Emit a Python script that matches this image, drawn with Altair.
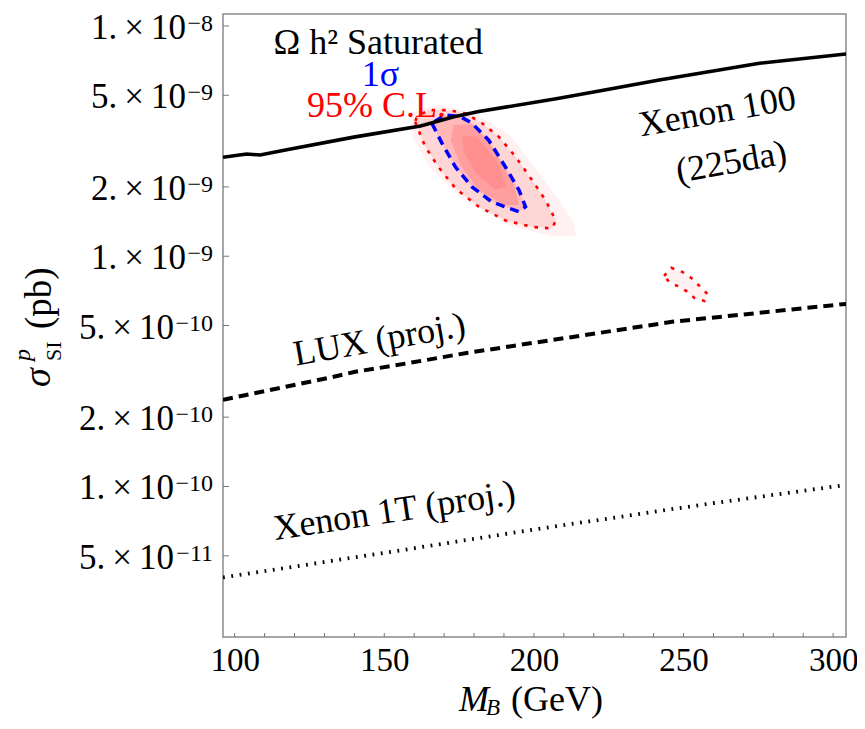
import altair as alt
import pandas as pd

# ---------------- data ----------------
# Xenon 100 (225 live days) limit, solid black
x100_m = [96.1, 104.0, 108.5, 117.4, 139.8, 162.1, 173.3, 181.6, 208.4, 221.8, 241.9, 275.4, 304.3]
x100_s = [2.69e-9, 2.78e-9, 2.75e-9, 2.90e-9, 3.29e-9, 3.68e-9, 4.03e-9, 4.25e-9, 4.85e-9,
          5.22e-9, 5.83e-9, 6.89e-9, 7.55e-9]
# LUX projection, dashed
lux_m = [96.1, 131.3, 140.3, 152.7, 177.5, 246.2, 304.3]
lux_s = [2.38e-10, 2.96e-10, 3.15e-10, 3.34e-10, 3.80e-10, 5.19e-10, 6.21e-10]
# Xenon 1T projection, dotted
x1t_m = [96.1, 148.0, 199.6, 255.3, 304.3]
x1t_s = [4.03e-11, 5.10e-11, 6.49e-11, 8.30e-11, 1.016e-10]

# 95% C.L. contour (red dotted)
cl95_m = [160.3, 163.7, 168.1, 173.8, 181.6, 190.5, 199.4, 206.1, 207.3, 203.9, 199.4, 193.9,
          188.3, 182.7, 177.1, 171.5, 164.8, 160.9, 160.3]
cl95_s = [3.84e-9, 2.99e-9, 2.44e-9, 1.97e-9, 1.64e-9, 1.43e-9, 1.34e-9, 1.32e-9, 1.43e-9,
          1.75e-9, 2.14e-9, 2.70e-9, 3.30e-9, 3.78e-9, 4.17e-9, 4.31e-9, 4.31e-9, 4.04e-9, 3.84e-9]
# small second 95% C.L. island
isl_m = [243.5, 245.9, 249.6, 252.6, 255.3, 258.0, 257.0, 253.6, 250.9, 247.9, 245.2, 243.5]
isl_s = [8.21e-10, 8.90e-10, 8.55e-10, 8.05e-10, 7.43e-10, 6.86e-10, 6.39e-10, 6.59e-10,
         7.07e-10, 7.43e-10, 7.73e-10, 8.21e-10]
# 1 sigma contour (blue dashed)
s1_m = [165.9, 169.3, 173.8, 179.3, 186.0, 195.0, 197.2, 195.0, 190.5, 184.9, 179.3, 175.4, 170.4, 165.9]
s1_s = [3.78e-9, 3.09e-9, 2.44e-9, 2.00e-9, 1.72e-9, 1.56e-9, 1.64e-9, 1.94e-9, 2.44e-9,
        3.19e-9, 3.78e-9, 4.04e-9, 4.10e-9, 3.78e-9]
# likelihood shading: faint outer glow, and inner core
glow_m = [159.0, 168.2, 180.0, 192.0, 204.0, 213.5, 214.0, 206.0, 192.0, 176.0, 165.5, 159.5]
glow_s = [4.20e-9, 4.55e-9, 4.20e-9, 3.35e-9, 2.10e-9, 1.40e-9, 1.22e-9, 1.22e-9, 1.36e-9,
          1.78e-9, 2.40e-9, 3.25e-9]
core_m = [173.2, 179.9, 186.6, 193.3, 195.0, 190.0, 181.6, 175.5, 172.2]
core_s = [3.72e-9, 3.72e-9, 2.90e-9, 2.04e-9, 1.67e-9, 1.67e-9, 1.94e-9, 2.49e-9, 3.20e-9]
center_m = [176.0, 181.0, 187.5, 191.0, 187.0, 180.5, 176.5]
center_s = [3.35e-9, 3.30e-9, 2.60e-9, 2.00e-9, 1.95e-9, 2.30e-9, 2.85e-9]

# annotations
ann_text = ["Ω h² Saturated", "1σ", "95% C.L.", "Xenon 100", "(225da)", "LUX (proj.)", "Xenon 1T (proj.)"]
ann_m = [148.0, 148.7, 147.4, 261.3, 266.0, 148.4, 153.4]
ann_s = [8.40e-9, 6.12e-9, 4.50e-9, 4.24e-9, 2.56e-9, 4.33e-10, 7.83e-11]
ann_color = ["black", "#0000ff", "#ff0000", "black", "black", "black", "black"]
ann_angle = [0, 0, 0, 350, 350, 350, 351.5]

# axes
x_ticks_major = [100, 150, 200, 250, 300]
x_ticks_minor = [110, 120, 130, 140, 160, 170, 180, 190, 210, 220, 230, 240, 260, 270, 280, 290]
y_tick_vals = [1e-8, 5e-9, 2e-9, 1e-9, 5e-10, 2e-10, 1e-10, 5e-11]
y_tick_mant = ["1.", "5.", "2.", "1.", "5.", "2.", "1.", "5."]
y_tick_exp = ["−8", "−9", "−9", "−9", "−10", "−10", "−10", "−11"]
x_domain = [96.1, 304.3]
y_domain = [2.22e-11, 1.127e-8]

# ---------------- chart ----------------
FONT = "Liberation Serif"
W, H = 623, 623

xaxis = alt.Axis(values=x_ticks_major, ticks=False, domain=False, grid=False, title=None,
                 labelFont=FONT, labelFontSize=33, labelPadding=7, labelColor="black")
xs = alt.Scale(domain=x_domain, nice=False, zero=False)
ys = alt.Scale(type="log", domain=y_domain, nice=False)


def X(f="M"):
    return alt.X(f"{f}:Q", scale=xs, axis=xaxis)


def Y(f="s"):
    return alt.Y(f"{f}:Q", scale=ys, axis=None)


def df(m, s):
    return pd.DataFrame({"M": m, "s": s, "i": list(range(len(m)))})


def poly(m, s, opacity, color="#ff3b3b"):
    return alt.Chart(df(m, s)).mark_line(fill=color, fillOpacity=opacity, strokeOpacity=0,
                                         clip=True).encode(x=X(), y=Y(), order="i:Q")


def path(m, s, color, width, dash=None):
    kw = dict(color=color, strokeWidth=width, clip=True)
    if dash:
        kw["strokeDash"] = dash
    return alt.Chart(df(m, s)).mark_line(**kw).encode(x=X(), y=Y(), order="i:Q")


layers = [
    poly(glow_m, glow_s, 0.07),
    poly(cl95_m, cl95_s, 0.15),
    poly(s1_m, s1_s, 0.20),
    poly(core_m, core_s, 0.20),
    poly(center_m, center_s, 0.15),
    poly(isl_m, isl_s, 0.07),
    path(cl95_m, cl95_s, "#ff0000", 2.6, [3.5, 7]),
    path(isl_m, isl_s, "#ff0000", 2.6, [3.5, 7]),
    path(s1_m, s1_s, "#0000ff", 3.5, [9, 6]),
    path(x100_m, x100_s, "black", 3.6),
    path(lux_m, lux_s, "black", 4.0, [10, 6]),
    path(x1t_m, x1t_s, "black", 3.8, [1.8, 6.6]),
]

# inward frame ticks
xt = pd.DataFrame({"M": x_ticks_major + x_ticks_minor})
layers.append(alt.Chart(xt).mark_rule(color="#777", strokeWidth=1).encode(
    x=X(), y=alt.value(H), y2=alt.value(H - 4)))

yt = pd.DataFrame({"s": y_tick_vals, "mant": y_tick_mant, "exp": y_tick_exp})
yt["mant"] = yt["mant"] + "\u2009×\u200910"
yt["long"] = yt["exp"].str.len() > 2
layers.append(alt.Chart(yt).mark_rule(color="#777", strokeWidth=1).encode(
    y=Y(), x=alt.value(0), x2=alt.value(6)))
# y tick labels: mantissa and raised exponent
layers.append(alt.Chart(yt).transform_filter("!datum.long").mark_text(
    font=FONT, fontSize=35, align="right", baseline="alphabetic", dy=13, color="black").encode(
    y=Y(), x=alt.value(-37), text="mant:N"))
layers.append(alt.Chart(yt).transform_filter("datum.long").mark_text(
    font=FONT, fontSize=35, align="right", baseline="alphabetic", dy=13, color="black").encode(
    y=Y(), x=alt.value(-49), text="mant:N"))
layers.append(alt.Chart(yt).mark_text(
    font=FONT, fontSize=24, align="right", baseline="alphabetic", dy=5, color="black").encode(
    y=Y(), x=alt.value(-10), text="exp:N"))

ann = pd.DataFrame({"t": ann_text, "M": ann_m, "s": ann_s, "c": ann_color, "a": ann_angle})
layers.append(alt.Chart(ann).mark_text(font=FONT, fontSize=36, align="center",
                                       baseline="middle").encode(
    x=X(), y=Y(), text="t:N", color=alt.Color("c:N", scale=None),
    angle=alt.Angle("a:Q", scale=None)))

one = pd.DataFrame({"k": [0]})


def label(txt, x, y, size, style="normal", angle=0):
    return alt.Chart(one).mark_text(text=txt, font=FONT, fontSize=size, fontStyle=style,
                                    align="left", baseline="alphabetic", angle=angle,
                                    color="black").encode(x=alt.value(x), y=alt.value(y))


# axis titles (with sub/superscripts)
layers += [
    label("M", 236, 697, 36, "italic"),
    label("B", 263, 701, 23, "italic"),
    label("(GeV)", 288, 697, 36),
    label("σ", -173, 373, 38, "italic", 270),
    label("p", -193, 347, 24, "italic", 270),
    label("SI", -162, 347, 22, "normal", 270),
    label("(pb)", -172, 315, 37, "normal", 270),
]

chart = alt.layer(*layers).properties(
    width=W, height=H,
    autosize=alt.AutoSizeParams(type="none"),
    padding={"left": 215, "top": 6, "right": 11, "bottom": 84},
    background="white",
).configure_view(stroke="#8a8a8a", strokeWidth=1.5)

chart.save("out.html", embed_options={"renderer": "svg", "actions": False})
